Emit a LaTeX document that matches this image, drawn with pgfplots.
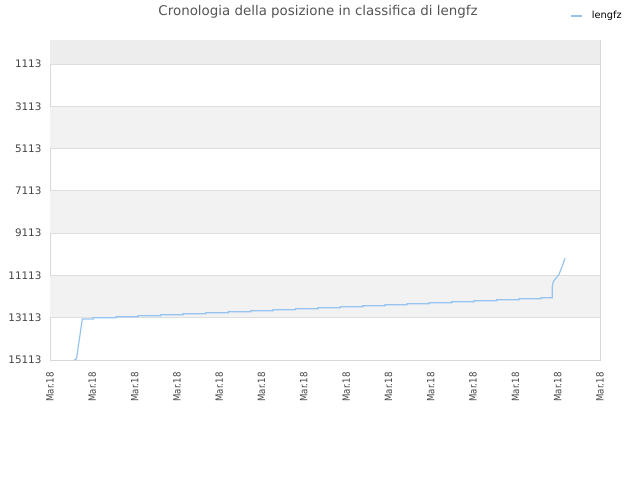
\documentclass[border=0pt]{standalone}
\usepackage{fontspec}
\setmainfont{DejaVu Sans}
\newfontfamily\condfont[FakeStretch=0.86]{DejaVu Sans}
\usepackage{pgfplots}
\pgfplotsset{compat=1.18}
\definecolor{linecol}{RGB}{150,196,240}
\definecolor{bandcol}{RGB}{242,242,242}
\definecolor{topband}{RGB}{237,237,237}
\definecolor{gridcol}{RGB}{222,222,222}
\definecolor{bordercol}{RGB}{216,216,216}
\definecolor{titlecol}{RGB}{85,85,85}
\definecolor{tickcol}{RGB}{68,68,68}
\begin{document}
\begin{tikzpicture}
\useasboundingbox (0bp,0bp) rectangle (640bp,480bp);
\node[text=titlecol, font=\fontsize{13.4bp}{15bp}\selectfont] at (318bp,468bp) {Cronologia della posizione in classifica di lengfz};
\begin{axis}[
  at={(50bp,120bp)}, anchor=south west,
  scale only axis, width=550bp, height=320bp,
  xmin=0, xmax=550, ymin=-22, ymax=15113,
  y dir=reverse,
  scaled y ticks=false, scaled x ticks=false,
  axis line style={draw=bordercol, line width=0.8bp},
  major tick length=0pt,
  ytick={1113,3113,5113,7113,9113,11113,13113,15113},
  yticklabels={1113,3113,5113,7113,9113,11113,13113,15113},
  xtick={0,42.3077,84.6154,126.9231,169.2308,211.5385,253.8462,296.1538,338.4615,380.7692,423.0769,465.3846,507.6923,550},
  xticklabels={Mar.18,Mar.18,Mar.18,Mar.18,Mar.18,Mar.18,Mar.18,Mar.18,Mar.18,Mar.18,Mar.18,Mar.18,Mar.18,Mar.18},
  yticklabel style={font=\fontsize{10.4bp}{12bp}\selectfont, text=tickcol, xshift=-5bp},
  xticklabel style={font=\condfont\fontsize{10bp}{11bp}\selectfont, text=tickcol, rotate=90, anchor=east},
  xticklabel shift=9bp,
  legend style={at={(axis description cs:1.049,1.075)}, anchor=east, draw=none, fill=none,
    font=\fontsize{9.8bp}{11bp}\selectfont},
  legend image code/.code={\draw[#1] (0bp,0bp) -- (11bp,0bp);},
]
\fill[topband] (axis cs:0,-22) rectangle (axis cs:550,1113);
\fill[bandcol] (axis cs:0,3113) rectangle (axis cs:550,5113);
\fill[bandcol] (axis cs:0,7113) rectangle (axis cs:550,9113);
\fill[bandcol] (axis cs:0,11113) rectangle (axis cs:550,13113);
\foreach \yy in {1113,3113,5113,7113,9113,11113,13113} {
  \edef\tmp{\noexpand\draw[gridcol, line width=0.8bp] (axis cs:0,\yy) -- (axis cs:550,\yy);}\tmp
}
\addplot[linecol, line width=1.2bp] coordinates {
(24.3,15113) (26.5,15060) (32.3,13174) (43.3,13174) (43.3,13112) (66,13112) (66,13065) (88,13065) (88,13018) (110.7,13018) (110.7,12970) (133,12970) (133,12923) (155.7,12923) (155.7,12876) (178.3,12876) (178.3,12828) (200.7,12828) (200.7,12781) (223,12781) (223,12734) (245.5,12734) (245.5,12687) (268,12687) (268,12639) (290.3,12639) (290.3,12592) (312.7,12592) (312.7,12545) (335,12545) (335,12497) (357,12497) (357,12450) (379,12450) (379,12403) (401.7,12403) (401.7,12356) (424,12356) (424,12308) (446.7,12308) (446.7,12261) (469,12261) (469,12214) (491,12214) (491,12166) (502.3,12166) (502.3,11646) (503.3,11409) (506.7,11202) (509,11060) (512.3,10667) (515,10303)
};
\addlegendentry{\hspace{7bp}lengfz}
\end{axis}
\end{tikzpicture}
\end{document}
